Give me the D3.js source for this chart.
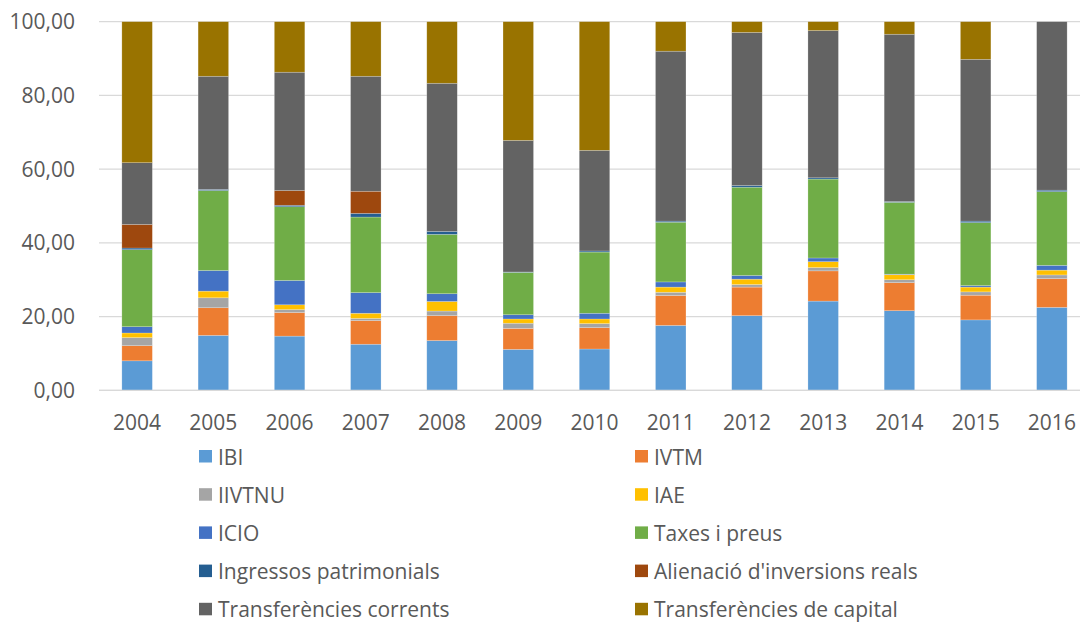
<!DOCTYPE html>
<html>
<head>
<meta charset="utf-8">
<script src="https://cdn.jsdelivr.net/npm/d3@7"></script>
<style>
  body { margin: 0; background: #fff; }
  svg { display: block; font-family: "Open Sans", "Noto Sans", sans-serif; }
</style>
</head>
<body>
<svg width="1080" height="622"></svg>
<script>
var years = ["2004","2005","2006","2007","2008","2009","2010","2011","2012","2013","2014","2015","2016"];

var seriesNames = ["IBI", "IVTM", "IIVTNU", "IAE", "ICIO", "Taxes i preus",
    "Ingressos patrimonials", "Alienació d'inversions reals",
    "Transferències corrents", "Transferències de capital"];

var seriesColors = ["#5b9bd5", "#ed7d31", "#a5a5a5", "#ffc000", "#4472c4", "#70ad47",
    "#255e91", "#9e480e", "#636363", "#997300"];

var ibi        = [8.0, 14.9, 14.7, 12.5, 13.5, 11.1, 11.2, 17.6, 20.25, 24.2, 21.6, 19.1, 22.5];
var ivtm       = [4.1, 7.5, 6.4, 6.4, 6.75, 5.7, 5.8, 8.1, 7.75, 8.2, 7.6, 6.7, 7.8];
var iivtnu     = [2.2, 2.7, 0.8, 0.6, 1.25, 1.4, 1.1, 0.9, 0.7, 0.9, 0.8, 0.9, 1.0];
var iae        = [1.25, 1.8, 1.3, 1.4, 2.6, 1.15, 1.25, 1.4, 1.45, 1.6, 1.35, 1.3, 1.3];
var icio       = [1.7, 5.6, 6.6, 5.6, 2.1, 1.15, 1.55, 1.4, 1.0, 1.0, 0.15, 0.4, 1.3];
var taxes      = [20.9, 21.7, 20.0, 20.5, 16.1, 11.5, 16.6, 16.2, 23.95, 21.4, 19.5, 17.1, 20.0];
var ingressos  = [0.45, 0.3, 0.4, 1.0, 0.8, 0.1, 0.3, 0.3, 0.45, 0.35, 0.2, 0.4, 0.4];
var alienacio  = [6.4, 0, 4.0, 6.0, 0, 0, 0, 0, 0, 0, 0, 0, 0];
var transfCorr = [16.75, 30.7, 32.1, 31.2, 40.2, 35.7, 27.3, 46.1, 41.55, 39.95, 45.4, 43.9, 45.7];
var transfCap  = [38.25, 14.8, 13.7, 14.8, 16.7, 32.2, 34.9, 8.0, 2.9, 2.4, 3.4, 10.2, 0];

var yTicks = [0, 20, 40, 60, 80, 100];

var allSeries = [ibi, ivtm, iivtnu, iae, icio, taxes, ingressos, alienacio, transfCorr, transfCap];

// one row per year for d3.stack
var rows = years.map(function(y, i) {
    var r = { year: y };
    seriesNames.forEach(function(name, k) { r[name] = allSeries[k][i]; });
    return r;
});

var svg = d3.select("svg");
var textColor = "#595959";
var gridColor = "#d9d9d9";

var x = d3.scaleBand()
    .domain(years)
    .range([99, 1090])
    .paddingInner(0.6)
    .paddingOuter(0.3);

var y = d3.scaleLinear()
    .domain([0, 100])
    .range([390.3, 21.7]);

var color = d3.scaleOrdinal().domain(seriesNames).range(seriesColors);

// gridlines
svg.append("g")
    .selectAll("line")
    .data(yTicks)
    .enter().append("line")
    .attr("x1", 99)
    .attr("x2", 1080)
    .attr("y1", function(d) { return y(d); })
    .attr("y2", function(d) { return y(d); })
    .attr("stroke", gridColor)
    .attr("stroke-width", 1.3);

// y labels
var fmt = function(d) { return d3.format(".2f")(d).replace(".", ","); };
svg.append("g")
    .selectAll("text")
    .data(yTicks)
    .enter().append("text")
    .attr("x", 75)
    .attr("y", function(d) { return y(d) + 2; })
    .attr("text-anchor", "end")
    .attr("dominant-baseline", "middle")
    .attr("fill", textColor)
    .style("font-size", "21px")
    .text(fmt);

var stack = d3.stack().keys(seriesNames);
var layers = stack(rows);

svg.append("g")
    .selectAll("g")
    .data(layers)
    .enter().append("g")
    .attr("fill", function(d) { return color(d.key); })
  .selectAll("rect")
    .data(function(d) { return d; })
    .enter().append("rect")
    .attr("x", function(d) { return x(d.data.year); })
    .attr("width", x.bandwidth())
    .attr("y", function(d) { return y(d[1]); })
    .attr("height", function(d) { return Math.max(0, y(d[0]) - y(d[1])); })
    .attr("stroke", "#ffffff")
    .attr("stroke-opacity", 0.35)
    .attr("stroke-width", 0.6);

// base axis line
svg.append("line")
    .attr("x1", 99).attr("x2", 1080)
    .attr("y1", y(0)).attr("y2", y(0))
    .attr("stroke", gridColor)
    .attr("stroke-width", 1.3);

// x labels
svg.append("g")
    .selectAll("text")
    .data(years)
    .enter().append("text")
    .attr("x", function(d) { return x(d) + x.bandwidth() / 2; })
    .attr("y", 429.5)
    .attr("text-anchor", "middle")
    .attr("fill", textColor)
    .style("font-size", "21px")
    .text(function(d) { return d; });

// legend, two columns
var legend = svg.append("g")
    .selectAll("g")
    .data(seriesNames)
    .enter().append("g")
    .attr("transform", function(d, i) {
        var col = i % 2, row = Math.floor(i / 2);
        return "translate(" + (col === 0 ? 199 : 635) + "," + (456.5 + row * 38.2) + ")";
    });

legend.append("rect")
    .attr("x", 0)
    .attr("y", -6.5)
    .attr("width", 13)
    .attr("height", 12.5)
    .attr("fill", function(d) { return color(d); });

legend.append("text")
    .attr("x", 19)
    .attr("y", 0)
    .attr("dominant-baseline", "central")
    .attr("fill", textColor)
    .style("font-size", "21px")
    .text(function(d) { return d; });
</script>
</body>
</html>
